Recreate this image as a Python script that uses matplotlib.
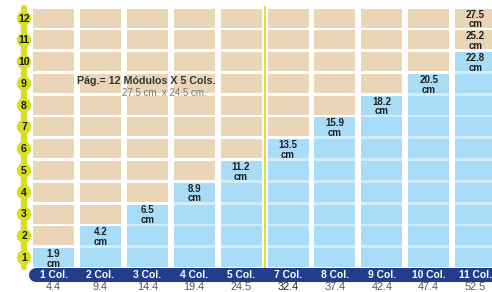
import matplotlib
matplotlib.use("Agg")
import matplotlib.pyplot as plt
import numpy as np

# data
col_labels = ["1 Col.", "2 Col.", "3 Col.", "4 Col.", "5 Col.",
              "7 Col.", "8 Col.", "9 Col.", "10 Col.", "11 Col."]
col_widths = ["4.4", "9.4", "14.4", "19.4", "24.5",
              "32.4", "37.4", "42.4", "47.4", "52.5"]
col_modules = [1, 2, 3, 4, 5, 6, 7, 8, 9, 10]   # blue modules per column
n_rows = 12
row_labels = [str(r) for r in range(1, n_rows + 1)]
label_cols = [0, 1, 2, 3, 4, 5, 6, 7, 8, 9, 9, 9]
label_modules = [1, 2, 3, 4, 5, 6, 7, 8, 9, 10, 11, 12]
label_cm = ["1.9", "4.2", "6.5", "8.9", "11.2", "13.5",
            "15.9", "18.2", "20.5", "22.8", "25.2", "27.5"]
title = "Pág.= 12 Módulos X 5 Cols."
subtitle = "27.5 cm. x 24.5 cm."

# layout (pixel geometry converted to data units)
PX_COL = 46.9     # column pitch in px
PX_ROW = 21.75    # row pitch in px
X0, Y0 = 33, 267  # left edge of first column, bottom of first row (px)
W_PX, H_PX = 492, 292
cell_w = 41 / PX_COL
cell_h = 19 / PX_ROW

BEIGE = "#ebd5b7"
BLUE = "#a9ddf7"
BLUE_GAP = "#d3eefb"
NAVY = "#243c8c"
LIME = "#d6df22"

fig = plt.figure(figsize=(W_PX / 100, H_PX / 100), dpi=100)
ax = fig.add_axes([0, 0, 1, 1])
ax.set_xlim(-X0 / PX_COL, (W_PX - X0) / PX_COL)
ax.set_ylim((Y0 - H_PX) / PX_ROW, Y0 / PX_ROW)
ax.axis("off")

x = np.arange(len(col_labels))
font = ["Liberation Sans", "DejaVu Sans"]

# cells
for i, n_blue in zip(x, col_modules):
    ax.bar(i, n_blue - 1 + cell_h, width=cell_w, bottom=0, align="edge",
           color=BLUE_GAP, zorder=1)
    rows = np.arange(n_rows)
    colors = [BLUE if r < n_blue else BEIGE for r in rows]
    ax.bar(np.full(n_rows, i), cell_h, width=cell_w, bottom=rows,
           align="edge", color=colors, zorder=2)

# cell labels
for c, m, t in zip(label_cols, label_modules, label_cm):
    top = m - 1 + cell_h - 0.8 / PX_ROW
    ax.text(c + cell_w / 2, top, t + "\ncm", ha="center", va="top",
            fontsize=7.0, fontweight="bold", color="#1f1f1f", family=font,
            linespacing=0.98, multialignment="center", zorder=4)

# separator between 5 Col. and 7 Col.
sep_x = (4 + cell_w + 5) / 2
ax.plot([sep_x, sep_x], [-1 / PX_ROW, 11 + cell_h + 1.5 / PX_ROW],
        color=LIME, lw=1.3, zorder=3)

# left spine with numbered circles
spine_x = (24 - X0) / PX_COL
ax.plot([spine_x, spine_x], [0, 11.9], color=LIME, lw=4.5,
        solid_capstyle="round", zorder=3)
row_centers = np.arange(n_rows) + cell_h / 2
ax.scatter(np.full(n_rows, spine_x), row_centers, s=108, color=LIME,
           edgecolors="none", zorder=4)
for yc, lab in zip(row_centers, row_labels):
    ax.text(spine_x, yc - 0.3 / PX_ROW, lab, ha="center", va="center",
            fontsize=7.6, fontweight="bold", color="#1a1a1a", family=font,
            zorder=5)

# bottom navy band with column labels
band_y = -8 / PX_ROW
ax.plot([(36 - X0) / PX_COL, (W_PX + 20 - X0) / PX_COL], [band_y, band_y],
        color=NAVY, lw=10.1, solid_capstyle="round", zorder=3)
for i, lab, w in zip(x, col_labels, col_widths):
    ax.text(i + cell_w / 2, band_y, lab, ha="center", va="center",
            fontsize=7.4, fontweight="bold", color="white", family=font,
            zorder=4)
    ax.text(i + cell_w / 2, -20.5 / PX_ROW, w, ha="center", va="center",
            fontsize=7.8, color="#222222" if w == "32.4" else "#555555",
            family=font, zorder=4)

# page note
ax.text((146 - X0) / PX_COL, (Y0 - 81) / PX_ROW, title, ha="center",
        va="center", fontsize=7.7, fontweight="bold", color="#333333",
        family=font, zorder=5)
ax.text((164.5 - X0) / PX_COL, (Y0 - 93.5) / PX_ROW, subtitle, ha="center",
        va="center", fontsize=7.0, color="#777777", family=font, zorder=5)

fig.savefig("out.png", dpi=100)
